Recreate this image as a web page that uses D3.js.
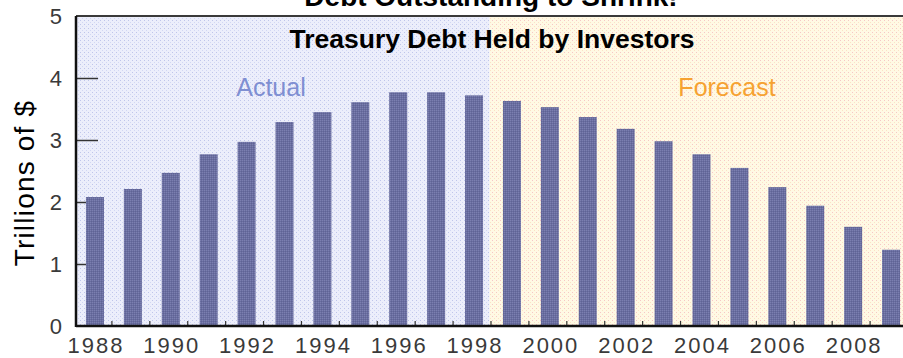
<!DOCTYPE html>
<html>
<head>
<meta charset="utf-8">
<script src="https://cdn.jsdelivr.net/npm/d3@7/dist/d3.min.js"></script>
<style>
  html, body { margin: 0; padding: 0; background: #ffffff; }
  svg { display: block; font-family: "Liberation Sans", Arial, Helvetica, sans-serif; }
</style>
</head>
<body>
<svg id="chart" width="903" height="358"></svg>
<script>
// Treasury debt held by investors, trillions of dollars
const years = ["1988","1989","1990","1991","1992","1993","1994","1995","1996","1997","1998",
               "1999","2000","2001","2002","2003","2004","2005","2006","2007","2008","2009"];
const debt = [2.08, 2.21, 2.47, 2.77, 2.97, 3.29, 3.45, 3.61, 3.77, 3.77, 3.72,
              3.63, 3.53, 3.37, 3.18, 2.98, 2.77, 2.55, 2.24, 1.94, 1.60, 1.23];
const lastActualYear = "1998";
const yTicks = [0, 1, 2, 3, 4, 5];
const xTickLabels = ["1988","1990","1992","1994","1996","1998","2000","2002","2004","2006","2008"];

const title = "Debt Outstanding to Shrink!";
const subtitle = "Treasury Debt Held by Investors";
const yTitle = "Trillions of $";

(function draw() {
  const svg = d3.select("#chart");
  const W = 903;
  const plotLeft = 76, plotTop = 16, plotBottom = 326, rangeEnd = 910;

  const x = d3.scaleBand().domain(years).range([plotLeft, rangeEnd])
    .paddingInner(0.525).paddingOuter(0.2625);
  const y = d3.scaleLinear().domain([0, 5]).range([plotBottom, plotTop]);

  // Dotted textures for the two background zones and the bars
  const defs = svg.append("defs");
  function dotPattern(id, base, dot, dot2) {
    const p = defs.append("pattern").attr("id", id).attr("patternUnits", "userSpaceOnUse")
      .attr("width", 4).attr("height", 4);
    p.append("rect").attr("width", 4).attr("height", 4).attr("fill", base);
    p.append("rect").attr("x", 0).attr("y", 0).attr("width", 1).attr("height", 1).attr("fill", dot);
    p.append("rect").attr("x", 2).attr("y", 2).attr("width", 1).attr("height", 1).attr("fill", dot2);
  }
  dotPattern("bgActual", "#eceefb", "#bfc5ea", "#d2d7f3");
  dotPattern("bgForecast", "#fff9e4", "#f6c6c6", "#fbe2c6");
  const bp = defs.append("pattern").attr("id", "barTex").attr("patternUnits", "userSpaceOnUse")
    .attr("width", 2).attr("height", 2);
  bp.append("rect").attr("width", 2).attr("height", 2).attr("fill", "#6a6ea0");
  bp.append("rect").attr("width", 1).attr("height", 1).attr("fill", "#7b7fb0");
  bp.append("rect").attr("x", 1).attr("y", 1).attr("width", 1).attr("height", 1).attr("fill", "#5f6395");

  const split = x(lastActualYear) + x.step() * 0.65;
  svg.append("rect").attr("x", plotLeft).attr("y", plotTop).attr("width", split - plotLeft)
    .attr("height", plotBottom - plotTop).attr("fill", "url(#bgActual)");
  svg.append("rect").attr("x", split).attr("y", plotTop).attr("width", W - split)
    .attr("height", plotBottom - plotTop).attr("fill", "url(#bgForecast)");

  // Zone labels
  svg.append("text").attr("x", 271).attr("y", 96).attr("text-anchor", "middle")
    .attr("font-size", 25).attr("fill", "#7f8fd2").text("Actual");
  svg.append("text").attr("x", 727).attr("y", 96).attr("text-anchor", "middle")
    .attr("font-size", 25).attr("fill", "#f6a232").text("Forecast");

  // Y axis ticks sit under the bars
  const yAxis = d3.axisLeft(y).tickValues(yTicks).tickSize(-22).tickPadding(14).tickFormat(d3.format("d"));
  const gy = svg.append("g").attr("transform", `translate(${plotLeft},0)`).call(yAxis);
  gy.select(".domain").remove();
  gy.selectAll(".tick line").attr("stroke", "#333").attr("stroke-width", 1.5)
    .filter(d => d === 0 || d === 5).remove();
  gy.selectAll(".tick text").attr("font-size", 22).attr("fill", "#3a3a3a")
    .attr("font-family", "'Liberation Sans', Arial, sans-serif");

  // Bars
  svg.append("g").selectAll("rect").data(years).join("rect")
    .attr("x", d => x(d))
    .attr("width", x.bandwidth())
    .attr("y", (d, i) => y(debt[i]))
    .attr("height", (d, i) => y(0) - y(debt[i]))
    .attr("fill", "url(#barTex)");

  // Small marks between bars on the baseline
  const gapMid = d => x(d) + x.bandwidth() + (x.step() - x.bandwidth()) / 2 - 2;
  svg.append("g").selectAll("line").data(years.slice(0, -1)).join("line")
    .attr("x1", gapMid).attr("x2", gapMid)
    .attr("y1", plotBottom - 5).attr("y2", plotBottom).attr("stroke", "#333").attr("stroke-width", 1.2);

  // X axis labels every other year
  const xAxis = d3.axisBottom(x).tickValues(xTickLabels).tickSize(0).tickPadding(11);
  const gx = svg.append("g").attr("transform", `translate(0,${plotBottom})`).call(xAxis);
  gx.select(".domain").remove();
  gx.selectAll(".tick text").attr("font-size", 22).attr("fill", "#3a3a3a")
    .attr("letter-spacing", 2).attr("dx", 1)
    .attr("font-family", "'Liberation Sans', Arial, sans-serif");

  // Frame lines
  svg.append("line").attr("x1", plotLeft).attr("x2", W).attr("y1", plotTop).attr("y2", plotTop)
    .attr("stroke", "#3a3a3a").attr("stroke-width", 2);
  svg.append("line").attr("x1", plotLeft).attr("x2", W).attr("y1", plotBottom).attr("y2", plotBottom)
    .attr("stroke", "#111").attr("stroke-width", 2.5);
  svg.append("line").attr("x1", plotLeft).attr("x2", plotLeft).attr("y1", plotTop).attr("y2", plotBottom + 1)
    .attr("stroke", "#111").attr("stroke-width", 2.5);

  // Titles (the main title runs off the top edge)
  svg.append("text").attr("x", 491).attr("y", 6).attr("text-anchor", "middle")
    .attr("font-size", 28).attr("font-weight", "bold").attr("fill", "#000").text(title);
  svg.append("text").attr("x", 492).attr("y", 48).attr("text-anchor", "middle")
    .attr("font-size", 26.5).attr("font-weight", "bold").attr("fill", "#000").text(subtitle);

  svg.append("text").attr("transform", "translate(34,183) rotate(-90)").attr("text-anchor", "middle")
    .attr("font-size", 28).attr("letter-spacing", 1.2).attr("fill", "#000").text(yTitle);
})();
</script>
</body>
</html>
